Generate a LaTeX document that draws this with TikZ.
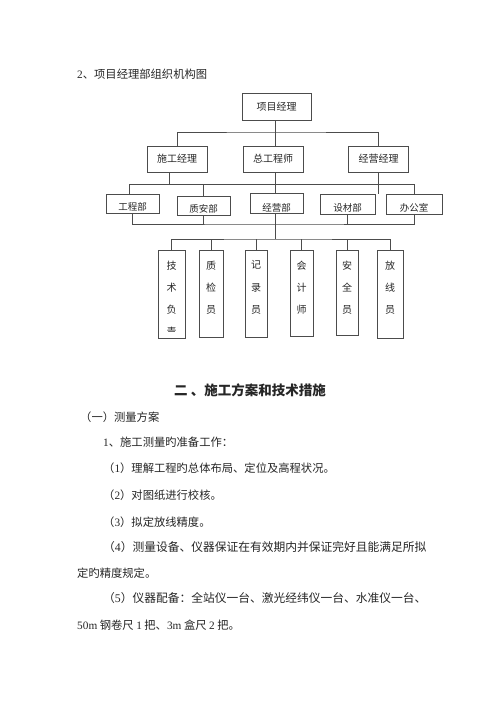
\documentclass[tikz,border=0pt]{standalone}
\usepackage{fontspec}
\setmainfont{Noto Sans CJK SC}
\newfontfamily\lat{Liberation Serif}
\begin{document}
\begin{tikzpicture}[x=1pt,y=-1pt,
  every node/.style={text=black!85},
  link/.style={draw=black!70, line width=0.8pt},
  orgbox/.style={draw=black!70, line width=0.8pt, inner sep=0pt, font=\fontsize{10}{12}\selectfont},
  deptbox/.style={draw=black!70, line width=0.8pt, inner sep=0pt},
  depttxt/.style={inner sep=0pt, font=\fontsize{9.5}{11}\selectfont},
  staffbox/.style={draw=black!70, line width=0.8pt, inner sep=0pt},
  stafftxt/.style={inner sep=0pt, anchor=north, align=center, font=\fontsize{10}{22.2}\selectfont},
  bodytxt/.style={anchor=west, inner sep=0pt, font=\fontsize{11.3}{13}\selectfont},
  widetxt/.style={anchor=west, inner sep=0pt, font=\fontsize{11.75}{13}\selectfont}]
\useasboundingbox (0,0) rectangle (500,707);
\fill[white] (0,0) rectangle (500,707);

% title
\node[bodytxt] (title) at (77,74) {{\lat 2}、项目经理部组织机构图};

% top level
\node[orgbox, minimum width=69pt, minimum height=27pt] (pm) at (276.5,106.5) {项目经理};
\node[orgbox, minimum width=60pt, minimum height=26pt] (m1) at (177,159) {施工经理};
\node[orgbox, minimum width=60pt, minimum height=26pt] (m2) at (273,159) {总工程师};
\node[orgbox, minimum width=60pt, minimum height=26pt] (m3) at (378.5,159) {经营经理};

% departments
\node[deptbox, minimum width=53pt, minimum height=19pt] (d1) at (132.5,203.5) {};
\node[deptbox, minimum width=53pt, minimum height=19pt] (d2) at (203.5,205.5) {};
\node[deptbox, minimum width=53pt, minimum height=20pt] (d3) at (276.5,203) {};
\node[deptbox, minimum width=55pt, minimum height=20pt] (d4) at (347.5,204) {};
\node[deptbox, minimum width=56pt, minimum height=20pt] (d5) at (414,204) {};
\node[depttxt] (dt1) at ([yshift=-3.5pt]d1.center) {工程部};
\node[depttxt] (dt2) at ([yshift=-3.5pt]d2.center) {质安部};
\node[depttxt] (dt3) at ([yshift=-4.5pt]d3.center) {经营部};
\node[depttxt] (dt4) at ([yshift=-3.5pt]d4.center) {设材部};
\node[depttxt] (dt5) at ([yshift=-3.5pt]d5.center) {办公室};

% staff
\node[staffbox, minimum width=27pt, minimum height=88pt] (s1) at (171.5,294) {};
\node[staffbox, minimum width=24pt, minimum height=87pt] (s2) at (211,293.5) {};
\node[staffbox, minimum width=22pt, minimum height=87pt] (s3) at (256,293.5) {};
\node[staffbox, minimum width=23pt, minimum height=86pt] (s4) at (301.5,293) {};
\node[staffbox, minimum width=22pt, minimum height=85pt] (s5) at (347,292.5) {};
\node[staffbox, minimum width=26pt, minimum height=88pt] (s6) at (390,294) {};
\begin{scope}
  \clip (s1.north west) rectangle ([yshift=7pt]s1.south east);
  \node[stafftxt] (st1) at ([yshift=-11pt]s1.north) {技\\术\\负\\责};
\end{scope}
\node[stafftxt] (st2) at ([yshift=-11pt]s2.north) {质\\检\\员};
\node[stafftxt] (st3) at ([yshift=-11pt]s3.north) {记\\录\\员};
\node[stafftxt] (st4) at ([yshift=-11pt]s4.north) {会\\计\\师};
\node[stafftxt] (st5) at ([yshift=-11pt]s5.north) {安\\全\\员};
\node[stafftxt] (st6) at ([yshift=-11pt]s6.north) {放\\线\\员};

% connectors level 1
\coordinate (b1) at (275,132);
\draw[link] (pm.south -| b1) -- (b1);
\draw[link] (m1.north) |- (b1) -| (m3.north);
\draw[link] (b1) -- (m2.north -| b1);

% connectors level 2
\coordinate (b2) at (275,184);
\coordinate (b2l) at (129,184);
\draw[link] (b2l) -- (d5.north |- b2);
\draw[link] ([xshift=-8pt]m1.south) -- ([xshift=-8pt]m1.south |- b2);
\draw[link] (m2.south -| b2) -- (b2);
\draw[link] (m3.south) -- (d4.north -| m3.south);
\draw[link] (b2l) -- (b2l |- d1.north);
\draw[link] (d2.north) -- (d2.north |- b2);
\draw[link] (b2) -- (d3.north -| b2);
\draw[link] (d5.north) -- (d5.north |- b2);

% connectors level 3
\coordinate (b3) at (275,224);
\draw[link] (d1.south) |- (b3) -| (d5.south);
\draw[link] (d2.south) -- (d2.south |- b3);
\draw[link] (d3.south -| b3) -- (b3);
\draw[link] (d4.south) -- (d4.south |- b3);

% connectors level 4
\coordinate (b4) at (275,239);
\draw[link] (b3) -- (b4);
\draw[link] (s1.north) |- (b4) -| (s6.north);
\draw[link] (s2.north) -- (s2.north |- b4);
\draw[link] (s3.north) -- (s3.north |- b4);
\draw[link] (s4.north) -- (s4.north |- b4);
\draw[link] (s5.north) -- (s5.north |- b4);

% text section
\node[inner sep=0pt, font=\fontsize{13.5}{15}\selectfont\bfseries] (h2) at (250,390) {二 、施工方案和技术措施};
\node[bodytxt] (l0) at (80,417) {（一）测量方案};
\node[bodytxt] (l1) at (103,442) {{\lat 1}、施工测量旳准备工作：};
\node[bodytxt] (l2) at (103,468) {（{\lat 1}）理解工程旳总体布局、定位及高程状况。};
\node[bodytxt] (l3) at (103,495) {（{\lat 2}）对图纸进行校核。};
\node[bodytxt] (l4) at (103,522) {（{\lat 3}）拟定放线精度。};
\node[widetxt] (l5) at (103,547) {（{\lat 4}）测量设备、仪器保证在有效期内并保证完好且能满足所拟};
\node[bodytxt] (l6) at (77,573) {定旳精度规定。};
\node[widetxt] (l7) at (103,598) {（{\lat 5}）仪器配备：全站仪一台、激光经纬仪一台、水准仪一台、};
\node[bodytxt] (l8) at (77,625) {{\lat 50m} 钢卷尺 {\lat 1} 把、{\lat 3m} 盒尺 {\lat 2} 把。};
\end{tikzpicture}
\end{document}
